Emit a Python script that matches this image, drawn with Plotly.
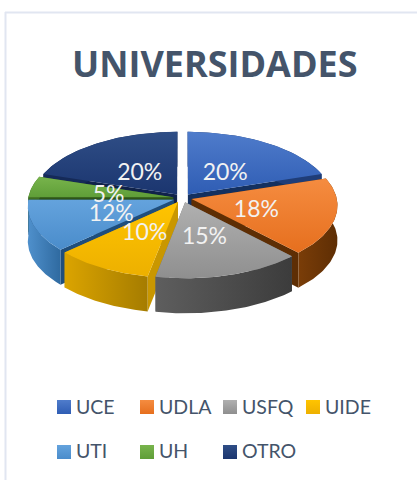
import numpy as np
import plotly.graph_objects as go

universities = ["UCE", "UDLA", "USFQ", "UIDE", "UTI", "UH", "OTRO"]
shares = [20, 18, 15, 10, 12, 5, 20]

top_colors = [
    ["#2F5DB4", "#4F7CCB"],
    ["#E66F1E", "#F58C40"],
    ["#8F8F8F", "#B0B0B0"],
    ["#EDB000", "#FFC400"],
    ["#4A8CCB", "#64A3DD"],
    ["#5F9E38", "#78B44C"],
    ["#1B356F", "#2F4E86"],
]
side_colors = [
    ["#1F3D78", "#1F3D78"],
    ["#7A3D08", "#5E2E04"],
    ["#5E5E5E", "#3C3C3C"],
    ["#DBA400", "#A57C00"],
    ["#4F90CC", "#2F6AA0"],
    ["#3F6E22", "#3F6E22"],
    ["#152A58", "#152A58"],
]
wall_colors = ["#14305F", "#5E2E04", "#6A6A6A", "#C99700", "#1F4E7C", "#2E5518", "#10224A"]

text_color = "#44546A"
frame_color = "#E1E6F1"

# pie geometry in page pixels
cx, cy = 182.5, 198
rx, ry = 145, 68.6
depth = 35
tilt = 0.087
explode = 0.065
label_r = 0.52
label_dy = 4


def project(u, v):
    s = 1 / (1 + tilt * v)
    return cx + rx * u * s, cy - ry * v * s


def gradient(colors, kind):
    return dict(type=kind, colorscale=[[0, colors[0]], [1, colors[1]]])


def add_poly(fig, x, y, fillgradient):
    fig.add_trace(go.Scatter(
        x=list(x) + [x[0]], y=list(y) + [y[0]],
        mode="lines", fill="toself", line=dict(width=0),
        fillgradient=fillgradient, showlegend=False, hoverinfo="skip",
    ))


fig = go.Figure()

edges = np.cumsum([0] + shares) / sum(shares) * 2 * np.pi
slices = []
for i in range(len(shares)):
    mid = (edges[i] + edges[i + 1]) / 2
    slices.append((np.cos(mid), i, mid))

# back slices first so the front ones cover them
for _, i, mid in sorted(slices, reverse=True):
    ox, oy = explode * np.sin(mid), explode * np.cos(mid)
    t = np.linspace(edges[i], edges[i + 1], 60)
    ax, ay = project(ox, oy)
    ex, ey = project(ox + np.sin(t), oy + np.cos(t))
    grad_h = gradient(side_colors[i], "horizontal")
    wall = gradient([wall_colors[i], wall_colors[i]], "vertical")

    for k in (0, -1):
        add_poly(fig, [ax, ex[k], ex[k], ax], [ay, ey[k], ey[k] + depth, ay + depth], wall)

    add_poly(fig, list(ex) + list(ex[::-1]), list(ey) + list(ey[::-1] + depth), grad_h)
    add_poly(fig, [ax] + list(ex), [ay] + list(ey), gradient(top_colors[i], "vertical"))

# percentage labels
lab_x, lab_y = [], []
for i in range(len(shares)):
    mid = (edges[i] + edges[i + 1]) / 2
    px, py = project(label_r * np.sin(mid), label_r * np.cos(mid))
    lab_x.append(px)
    lab_y.append(py + label_dy)
fig.add_trace(go.Scatter(
    x=lab_x, y=lab_y, mode="text", text=[f"{v}%" for v in shares],
    textfont=dict(family="Lato", size=23, color="#F2F2F2"),
    showlegend=False, hoverinfo="skip",
))

# legend grid, two rows
col_x = [64, 147, 230, 313]
row_marker_y = [407, 452]
row_text_y = [409, 453]
for i, name in enumerate(universities):
    col, row = i % 4, i // 4
    fig.add_trace(go.Scatter(
        x=[col_x[col]], y=[row_marker_y[row]], mode="markers",
        marker=dict(symbol="square", size=14, color=top_colors[i][1],
                    gradient=dict(type="vertical", color=top_colors[i][0]),
                    line=dict(width=0)),
        showlegend=False, hoverinfo="skip",
    ))
    fig.add_trace(go.Scatter(
        x=[col_x[col] + 12], y=[row_text_y[row]], mode="text", text=[name],
        textposition="middle right",
        textfont=dict(family="Lato", size=19.5, color=text_color),
        showlegend=False, hoverinfo="skip",
    ))

fig.update_layout(
    width=417, height=480,
    margin=dict(l=0, r=0, t=0, b=0),
    paper_bgcolor="white", plot_bgcolor="white",
    xaxis=dict(range=[0, 417], visible=False, fixedrange=True),
    yaxis=dict(range=[480, 0], visible=False, fixedrange=True),
    shapes=[
        dict(type="line", x0=5.5, x1=5.5, y0=12, y1=480, line=dict(color=frame_color, width=2)),
        dict(type="line", x0=5, x1=417, y0=12.5, y1=12.5, line=dict(color=frame_color, width=2)),
    ],
    annotations=[dict(
        x=215, y=63, xref="x", yref="y", text="<b>UNIVERSIDADES</b>", showarrow=False,
        font=dict(family="Open Sans", size=36, color=text_color),
    )],
)

# the page's default body margin would push the chart off by 8px
fig.write_html(
    "out.html",
    config=dict(displayModeBar=False),
    post_script="document.body.style.margin='0';",
)
